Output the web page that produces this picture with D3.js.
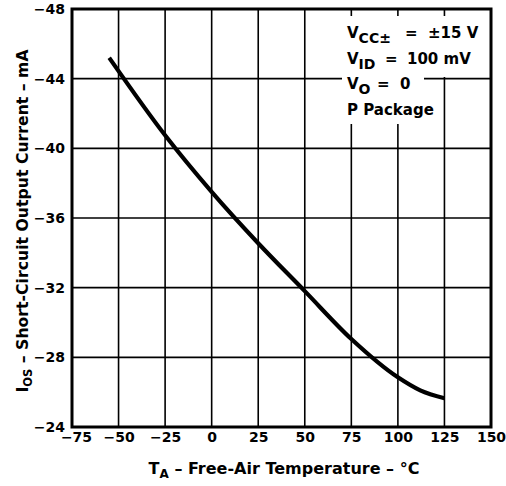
<!DOCTYPE html>
<html><head><meta charset="utf-8">
<script src="https://cdn.jsdelivr.net/npm/d3@7/dist/d3.min.js"></script>
<style>
html,body{margin:0;padding:0;background:#fff;}
text{font-family:"DejaVu Sans",sans-serif;font-weight:bold;fill:#000;}
</style></head>
<body><svg id="c" width="506" height="486"></svg>
<script>
const temps = [-55, -25, 0, 25, 50, 75, 100, 112, 125];
const iosValues = [-45.2, -40.75, -37.5, -34.55, -31.8, -29.05, -26.85, -26.1, -25.65];
const xTicks = [-75, -50, -25, 0, 25, 50, 75, 100, 125, 150];
const yTicks = [-48, -44, -40, -36, -32, -28, -24];
const noteLines = [
  {main: "V", sub: "CC±", eq: "=", val: "±15 V", eqX: 405, valX: 428},
  {main: "V", sub: "ID", eq: "=", val: "100 mV", eqX: 385, valX: 407},
  {main: "V", sub: "O", eq: "=", val: "0", eqX: 377, valX: 400},
  {main: "P Package", sub: "", eq: "", val: "", eqX: 0, valX: 0}
];

const svg = d3.select("#c");
const L = 72, R = 491, T = 9, B = 427;
const x = d3.scaleLinear().domain([-75, 150]).range([L, R]);
const y = d3.scaleLinear().domain([-48, -24]).range([T, B]);

const fmt = d => d === 0 ? "0" : (d < 0 ? "\u2212" + Math.abs(d) : String(d));

// grid
const g = svg.append("g");
g.selectAll(".vx").data(xTicks).join("line")
  .attr("x1", d => x(d)).attr("x2", d => x(d)).attr("y1", T).attr("y2", B)
  .attr("stroke", "#000").attr("stroke-width", 1.6);
g.selectAll(".hy").data(yTicks).join("line")
  .attr("y1", d => y(d)).attr("y2", d => y(d)).attr("x1", L).attr("x2", R)
  .attr("stroke", "#000").attr("stroke-width", 1.6);

// note background
svg.append("rect").attr("x", 342).attr("y", 16).attr("width", 110).attr("height", 61).attr("fill", "#fff");
svg.append("rect").attr("x", 342).attr("y", 77).attr("width", 82).attr("height", 47).attr("fill", "#fff");

// curve
const line = d3.line().x((d, i) => x(temps[i])).y(d => y(d)).curve(d3.curveMonotoneX);
svg.append("path").datum(iosValues).attr("d", line)
  .attr("fill", "none").attr("stroke", "#000").attr("stroke-width", 4.2);

// frame
svg.append("rect").attr("x", L).attr("y", T).attr("width", R - L).attr("height", B - T)
  .attr("fill", "none").attr("stroke", "#000").attr("stroke-width", 3);

// axes labels
const xa = svg.append("g").attr("transform", `translate(0,${B})`)
  .call(d3.axisBottom(x).tickValues(xTicks).tickFormat(fmt).tickSize(0).tickPadding(5));
xa.select(".domain").remove();
xa.selectAll("text").attr("font-size", 14).attr("font-family", null).attr("dy", "0.72em");
xa.selectAll(".tick").filter(d => d === -75).select("text").attr("dx", 4);
const ya = svg.append("g").attr("transform", `translate(${L},0)`)
  .call(d3.axisLeft(y).tickValues(yTicks).tickFormat(fmt).tickSize(0).tickPadding(7));
ya.select(".domain").remove();
ya.selectAll("text").attr("font-size", 14).attr("font-family", null);

// x title
const xt = svg.append("text").attr("x", 284).attr("y", 474).attr("text-anchor", "middle").attr("font-size", 16);
xt.append("tspan").text("T");
xt.append("tspan").attr("font-size", 12).attr("dy", 4).text("A");
xt.append("tspan").attr("dy", -4).text(" \u2013 Free-Air Temperature \u2013 °C");

// y title
const yt = svg.append("text").attr("transform", "translate(28,221) rotate(-90)").attr("text-anchor", "middle").attr("font-size", 15.7);
yt.append("tspan").text("I");
yt.append("tspan").attr("font-size", 11.5).attr("dy", 4).text("OS");
yt.append("tspan").attr("dy", -4).text(" \u2013 Short-Circuit Output Current \u2013 mA");

// note
noteLines.forEach((n, i) => {
  const t = svg.append("text").attr("x", 347).attr("y", 38 + i * 25.7).attr("font-size", 15);
  t.append("tspan").text(n.main);
  if (n.sub) {
    t.append("tspan").attr("font-size", 14).attr("dy", 5).text(n.sub);
    t.append("tspan").attr("x", n.eqX).attr("dy", -5).text(n.eq);
    t.append("tspan").attr("x", n.valX).text(n.val);
  }
});
</script></body></html>
